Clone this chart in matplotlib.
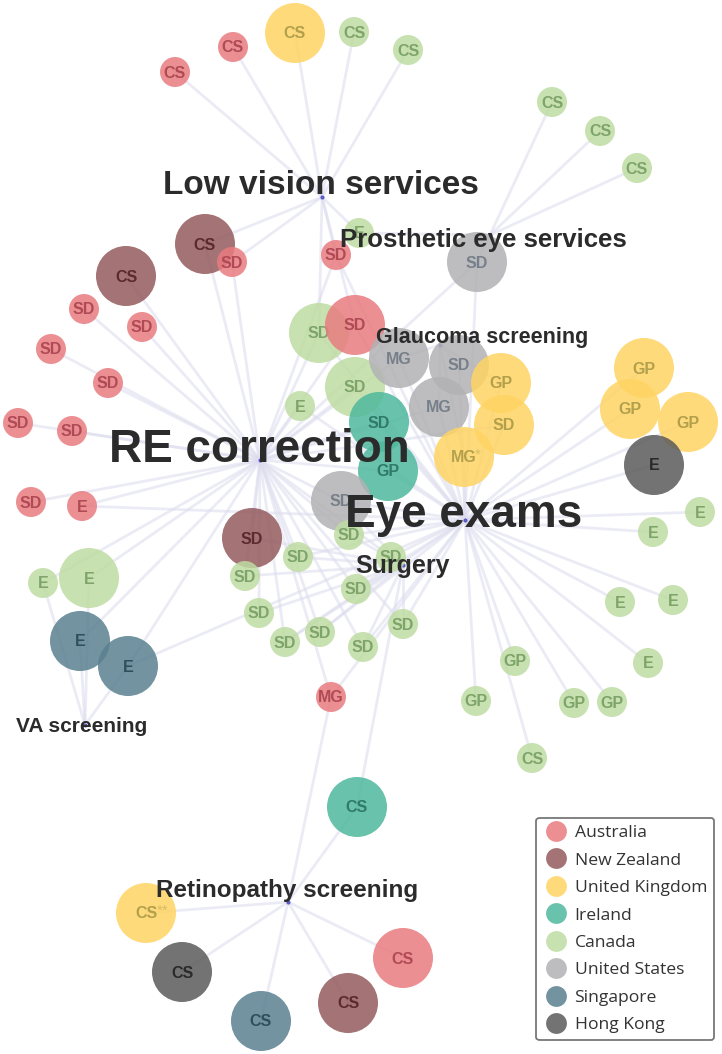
import matplotlib
matplotlib.use("Agg")
import matplotlib.pyplot as plt
from matplotlib.patches import Circle
from matplotlib.lines import Line2D

# services (hubs) and where their spokes meet
hub_names = ["Low vision services", "Prosthetic eye services", "Glaucoma screening",
             "RE correction", "Eye exams", "Surgery", "VA screening", "Retinopathy screening"]
hub_codes = ["L", "P", "G", "R", "X", "S", "V", "T"]
hub_x = [322, 490, 440, 260, 465, 403, 85, 288]
hub_y = [197, 235, 345, 460, 520, 565, 725, 902]

# country legend
countries = ["Australia", "New Zealand", "United Kingdom", "Ireland",
             "Canada", "United States", "Singapore", "Hong Kong"]
country_colors = ["#e97c80", "#935a5d", "#ffd463", "#4fb89d",
                  "#bfdca2", "#b2b2b4", "#5a8090", "#5a5a5a"]
text_colors = ["#b04a55", "#5c2a2e", "#b3a04c", "#2f7a6a",
               "#7ea46a", "#77808a", "#2e4f5c", "#2a2a2a"]

# nodes: label, country index, x, y, radius, linked services
node_label = ["CS", "CS", "CS", "CS", "CS", "CS", "CS", "CS",
              "SD", "E", "SD", "CS", "SD", "CS",
              "SD", "SD", "SD", "SD", "SD", "SD", "SD", "E",
              "SD", "SD", "SD", "E",
              "MG", "SD", "MG", "GP", "SD", "MG*",
              "SD", "GP", "SD",
              "GP", "GP", "GP", "E", "E", "E",
              "SD", "SD", "SD", "SD", "SD", "SD",
              "E", "E", "E", "E",
              "SD", "SD", "SD", "SD", "SD", "MG",
              "GP", "GP", "GP", "GP", "E", "E", "E", "CS",
              "CS", "CS**", "CS", "CS", "CS", "CS"]
node_country = [0, 0, 2, 4, 4, 4, 4, 4,
                5, 4, 0, 1, 0, 1,
                0, 0, 0, 0, 0, 0, 0, 0,
                4, 0, 4, 4,
                5, 5, 5, 2, 2, 2,
                3, 3, 5,
                2, 2, 2, 7, 4, 4,
                1, 4, 4, 4, 4, 4,
                4, 4, 6, 6,
                4, 4, 4, 4, 4, 0,
                4, 4, 4, 4, 4, 4, 4, 4,
                3, 2, 7, 6, 1, 0]
node_x = [175, 233, 295, 354, 408, 552, 600, 637,
          477, 359, 336, 205, 232, 126,
          84, 142, 51, 108, 18, 72, 31, 82,
          319, 355, 355, 300,
          399, 459, 439, 501, 504, 464,
          379, 388, 341,
          644, 630, 688, 654, 700, 653,
          252, 349, 298, 391, 245, 356,
          43, 89, 80, 128,
          259, 320, 285, 403, 363, 331,
          515, 476, 574, 612, 620, 673, 648, 532,
          357, 146, 182, 261, 348, 403]
node_y = [72, 47, 33, 32, 50, 102, 131, 168,
          262, 233, 255, 244, 262, 276,
          309, 327, 349, 383, 423, 431, 502, 506,
          333, 325, 387, 406,
          358, 365, 407, 383, 425, 457,
          422, 471, 501,
          368, 409, 422, 465, 512, 532,
          538, 535, 557, 557, 576, 589,
          583, 578, 641, 666,
          613, 632, 642, 624, 647, 697,
          661, 701, 703, 702, 602, 600, 663, 758,
          807, 913, 972, 1021, 1003, 958]
node_r = [15, 15, 30, 15, 15, 15, 15, 15,
          30, 15, 15, 30, 15, 30,
          15, 15, 15, 15, 15, 15, 15, 15,
          30, 30, 30, 15,
          30, 30, 30, 30, 30, 30,
          30, 30, 30,
          30, 30, 30, 30, 15, 15,
          30, 15, 15, 15, 15, 15,
          15, 30, 30, 30,
          15, 15, 15, 15, 15, 15,
          15, 15, 15, 15, 15, 15, 15, 15,
          30, 30, 30, 30, 30, 30]
node_links = ["L", "L", "L", "L", "L", "P", "P", "P",
              "PRX", "LP", "LRX", "LR", "LR", "R",
              "R", "R", "R", "R", "R", "R", "R", "RX",
              "RXL", "RXL", "RX", "RX",
              "GRX", "GX", "GXR", "GX", "XR", "GX",
              "RX", "RX", "RXS",
              "X", "X", "X", "X", "X", "X",
              "RS", "RSX", "RSX", "RSX", "RS", "RSX",
              "RV", "RV", "RV", "RVX",
              "RS", "RSX", "RSX", "RSX", "RSX", "RXT",
              "X", "X", "X", "X", "X", "X", "X", "X",
              "TS", "T", "T", "T", "T", "T"]

# where the service names sit
hub_label_x = [321, 483, 482, 259, 464, 403, 82, 287]
hub_label_y = [185, 240, 338, 450, 515, 566, 727, 891]
hub_label_size = [24, 18.5, 15.5, 33, 33, 18, 15, 17.5]

fig = plt.figure(figsize=(7.22, 10.54), dpi=100)
ax = fig.add_axes([0, 0, 1, 1])
ax.set_xlim(0, 722)
ax.set_ylim(1054, 0)
ax.axis("off")

# spokes
for x, y, links in zip(node_x, node_y, node_links):
    for code in links:
        h = hub_codes.index(code)
        ax.plot([x, hub_x[h]], [y, hub_y[h]], color="#dcdcee", lw=2.0,
                alpha=0.55, zorder=1, solid_capstyle="round")
ax.scatter(hub_x, hub_y, s=4, color="#4a4ac0", alpha=0.8, zorder=2)

# nodes
for i, (lab, c, x, y, r) in enumerate(zip(node_label, node_country, node_x, node_y, node_r)):
    ax.add_patch(Circle((x, y), r, facecolor=country_colors[c], edgecolor="none",
                        alpha=0.85, zorder=3 + i * 0.01))
    base = lab.rstrip("*")
    stars = lab[len(base):]
    ax.text(x, y + 1, base, ha="center", va="center", fontsize=11.5, fontweight="bold",
            family="Liberation Sans", color=text_colors[c], zorder=3.005 + i * 0.01)
    if stars:
        ax.text(x + 11, y - 2, stars, ha="left", va="center", fontsize=11,
                family="Liberation Sans", color=text_colors[c], alpha=0.5,
                zorder=3.005 + i * 0.01)

# service names
for name, x, y, s in zip(hub_names, hub_label_x, hub_label_y, hub_label_size):
    ax.text(x, y, name, ha="center", va="center", fontsize=s, fontweight="bold",
            family="Liberation Sans", color="#2b2b2b", zorder=10)

handles = [Line2D([], [], marker="o", linestyle="", markersize=15,
                  markerfacecolor=c, markeredgecolor="none", alpha=0.85)
           for c in country_colors]
leg = ax.legend(handles, countries, loc="upper right", bbox_to_anchor=(0.989, 0.224),
                bbox_transform=fig.transFigure, prop={"family": "Open Sans", "size": 12.6},
                frameon=True, fancybox=True, edgecolor="#555555", labelspacing=0.64,
                handletextpad=0.3, borderpad=0.4, handlelength=1.5, borderaxespad=0)
leg.get_frame().set_linewidth(1.3)
leg.set_zorder(20)
for t in leg.get_texts():
    t.set_color("#333333")

fig.savefig("out.png", dpi=100)
